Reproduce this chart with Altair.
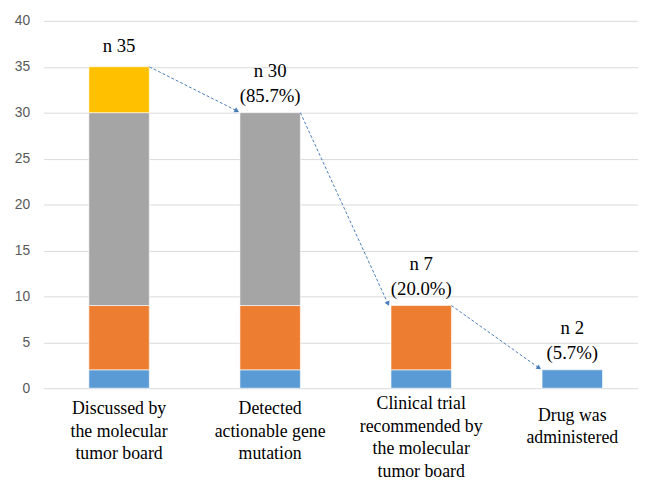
import math
import altair as alt
import pandas as pd

# ---- data ----
categories = [
    "Discussed by\nthe molecular\ntumor board",
    "Detected\nactionable gene\nmutation",
    "Clinical trial\nrecommended by\nthe molecular\ntumor board",
    "Drug was\nadministered",
]
series_names = ["s1", "s2", "s3", "s4"]
blue_vals = [2, 2, 2, 2]
orange_vals = [7, 7, 7, 0]
gray_vals = [21, 21, 0, 0]
yellow_vals = [5, 0, 0, 0]
n_labels = ["n 35", "n 30", "n 7", "n 2"]
pct_labels = ["", "(85.7%)", "(20.0%)", "(5.7%)"]
y_ticks = [0, 5, 10, 15, 20, 25, 30, 35, 40]
colors = ["#5B9BD5", "#ED7D31", "#A5A5A5", "#FFC000"]

# ---- layout / style ----
W, H = 602, 372
X_DOMAIN = [-0.5, 3.435]
Y_DOMAIN = [0, 40]
HALF = 0.2      # half bar width in category units
GAP = 0.02      # arrow gap before next bar
ARROW_COLOR = "#4A7EBB"
SERIF = "Liberation Serif"
LABEL_DY = {4: 16, 3: 21, 2: 28}   # first-line offset below the axis by line count

series_vals = [blue_vals, orange_vals, gray_vals, yellow_vals]
rows = []
for i, cat in enumerate(categories):
    for j, s in enumerate(series_names):
        v = series_vals[j][i]
        if v > 0:
            rows.append({"idx": i, "series": s, "order": j, "value": v})
bars_df = pd.DataFrame(rows)

totals = [sum(series_vals[j][i] for j in range(4)) for i in range(len(categories))]
ann_df = pd.DataFrame({"idx": list(range(len(categories))), "total": totals,
                       "n": n_labels, "pct": pct_labels})
cat_df = pd.DataFrame({"idx": list(range(len(categories))), "label": categories,
                       "nlines": [c.count("\n") + 1 for c in categories]})

px = W / (X_DOMAIN[1] - X_DOMAIN[0])
py = H / (Y_DOMAIN[1] - Y_DOMAIN[0])
arrows = []
for i in range(len(categories) - 1):
    xs = i + HALF
    xe = i + 1 - HALF - GAP
    ang = math.degrees(math.atan2((totals[i] - totals[i + 1]) * py, (xe - xs) * px))
    arrows.append({"xs": xs, "xe": xe, "ys": totals[i], "ye": totals[i + 1] + 0.2, "ang": ang})
arrow_df = pd.DataFrame(arrows)

xscale = alt.Scale(domain=X_DOMAIN, nice=False, zero=False)
yscale = alt.Scale(domain=Y_DOMAIN, nice=False)

bars = alt.Chart(bars_df).transform_stack(
    stack="value", groupby=["idx"], as_=["v0", "v1"], sort=[alt.SortField("order", "ascending")]
).transform_calculate(
    x0=f"datum.idx - {HALF}", x1=f"datum.idx + {HALF}"
).mark_bar(stroke="white", strokeWidth=0.6).encode(
    x=alt.X("x0:Q", scale=xscale, axis=None),
    x2="x1:Q",
    y=alt.Y("v0:Q", scale=yscale,
            axis=alt.Axis(values=y_ticks, grid=True, gridColor="#D9D9D9", domain=False,
                          ticks=False, tickSize=0, labelColor="#595959",
                          labelFont="Liberation Sans", labelFontSize=14, labelPadding=14,
                          title=None)),
    y2="v1:Q",
    color=alt.Color("series:N", scale=alt.Scale(domain=series_names, range=colors), legend=None),
)

lines = alt.Chart(arrow_df).mark_rule(color=ARROW_COLOR, strokeDash=[3, 2], strokeWidth=1).encode(
    x=alt.X("xs:Q", scale=xscale), x2="xe:Q",
    y=alt.Y("ys:Q", scale=yscale), y2="ye:Q",
)

heads = alt.Chart(arrow_df).mark_point(shape="triangle-right", filled=True, color=ARROW_COLOR,
                                       size=30, opacity=1).encode(
    x=alt.X("xe:Q", scale=xscale),
    y=alt.Y("ye:Q", scale=yscale),
    angle=alt.Angle("ang:Q", scale=None),
)

text_enc = dict(x=alt.X("idx:Q", scale=xscale), y=alt.Y("total:Q", scale=yscale))

pct = alt.Chart(ann_df).transform_filter("datum.pct != ''").mark_text(
    font=SERIF, fontSize=19, baseline="bottom", dy=-7, color="#000000"
).encode(text="pct:N", **text_enc)

n_with_pct = alt.Chart(ann_df).transform_filter("datum.pct != ''").mark_text(
    font=SERIF, fontSize=19, baseline="bottom", dy=-32, color="#000000"
).encode(text="n:N", **text_enc)

n_alone = alt.Chart(ann_df).transform_filter("datum.pct == ''").mark_text(
    font=SERIF, fontSize=19, baseline="bottom", dy=-11, color="#000000"
).encode(text="n:N", **text_enc)

xlabel_layers = []
for nl, dy in LABEL_DY.items():
    xlabel_layers.append(
        alt.Chart(cat_df).transform_filter(f"datum.nlines == {nl}").mark_text(
            font=SERIF, fontSize=18, lineHeight=23, baseline="middle", dy=dy,
            lineBreak="\n", color="#000000"
        ).encode(x=alt.X("idx:Q", scale=xscale), y=alt.datum(0), text="label:N")
    )

chart = alt.layer(bars, lines, heads, pct, n_with_pct, n_alone, *xlabel_layers).properties(
    width=W, height=H,
    autosize=alt.AutoSizeParams(type="none"),
    padding={"left": 36, "top": 10, "right": 0, "bottom": 93},
).configure_view(stroke=None)

chart.save("out.html", embed_options={"renderer": "svg", "actions": False})
